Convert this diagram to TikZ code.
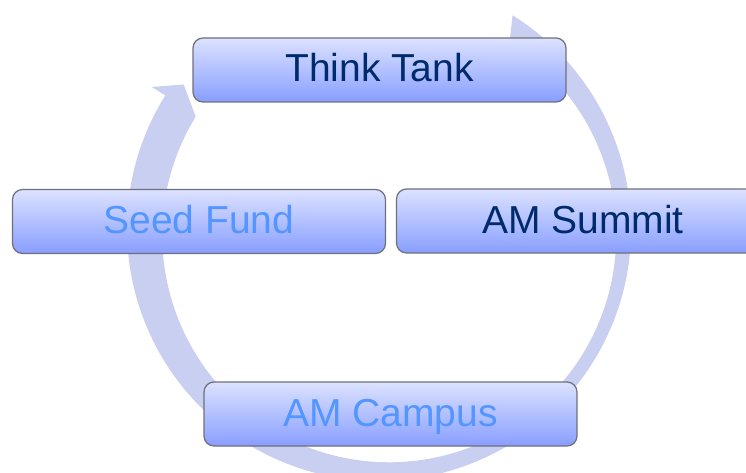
\documentclass[tikz,border=0pt]{standalone}
\usepackage{fontspec}
\setmainfont{Liberation Sans}
\definecolor{ringblue}{RGB}{200,207,240}
\definecolor{boxtop}{RGB}{220,226,255}
\definecolor{boxbottom}{RGB}{136,158,255}
\definecolor{boxline}{RGB}{112,112,122}
\definecolor{darktext}{RGB}{0,42,108}
\definecolor{lighttext}{RGB}{84,150,255}
\begin{document}
\begin{tikzpicture}[x=1pt,y=1pt]

        \useasboundingbox (0,0) rectangle (746,472);

        % circular arrow behind the boxes
        \begin{scope}[shift={(379,243)}]
          \fill[ringblue] (58:252pt) arc[start angle=58, end angle=-212, radius=252pt]
            -- (148:268pt) -- (143.5:243pt) -- (148.5:215pt)
            arc[start angle=-211.5, end angle=58, radius=227pt] -- cycle;
        \end{scope}

        \begin{scope}[every node/.style={draw=boxline, line width=1.2pt, rounded corners=10pt,
            top color=boxtop, bottom color=boxbottom, minimum width=373pt, minimum height=64pt,
            inner sep=0pt, text height=28pt, text depth=4pt, font=\fontsize{39}{45}\selectfont}]
          \node[text=darktext]  (tank)   at (379.5,402) {Think Tank};
          \node[text=lighttext] (seed)   at (199,250.5) {Seed Fund};
          \node[text=darktext]  (summit) at (583,251)   {AM Summit};
          \node[text=lighttext] (campus) at (390.5,58)  {AM Campus};
        \end{scope}

      \end{tikzpicture}
\end{document}
